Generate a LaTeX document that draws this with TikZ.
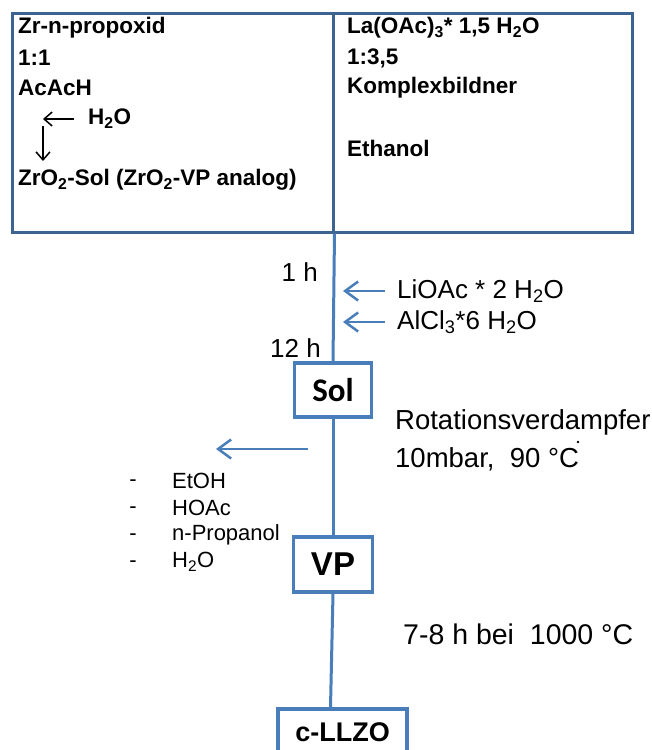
\documentclass[tikz,border=0pt]{standalone}
\usepackage{fontspec}
\setmainfont{Liberation Sans}
\newfontfamily\calfont{Carlito}
\usetikzlibrary{arrows.meta}
\definecolor{boxdark}{HTML}{3D6391}
\definecolor{flow}{HTML}{4A7EBB}
\tikzset{
  topbox/.style={draw=boxdark, line width=3pt, minimum height=219pt, inner sep=0pt},
  bt/.style={anchor=west, inner sep=0pt, font=\bfseries\fontsize{22.5}{26}\selectfont},
  rt/.style={anchor=west, inner sep=0pt, font=\fontsize{26}{31}\selectfont},
  lt/.style={anchor=west, inner sep=0pt, font=\fontsize{22}{26}\selectfont},
  stepnode/.style={draw=flow, line width=3.5pt, inner sep=0pt, fill=white},
  flowline/.style={draw=flow, line width=3pt},
  barrow/.style={draw=flow, line width=2.5pt, -{Straight Barb[length=13pt,width=19pt,line width=2.5pt]}},
  karrow/.style={draw=black, line width=1.5pt, -{Straight Barb[length=8pt,width=14pt,line width=1.5pt]}}
}
\begin{document}
\begin{tikzpicture}[x=1pt,y=-1pt]
\clip (0,0) rectangle (652,750);
\fill[white] (0,0) rectangle (652,750);
% top boxes
\node[topbox, minimum width=321pt] (lbox) at (172.5,122.5) {};
\node[topbox, minimum width=299pt] (rbox) at (482.5,122.5) {};
% left box text
\node[bt] (zr) at (18,28) {Zr-n-propoxid};
\node[bt] (r11) at (18,58) {1:1};
\node[bt] (acac) at (18,88) {AcAcH};
\node[bt] (h2o) at (88,119) {H\textsubscript{2}O};
\node[bt] (zrsol) at (18,180) {ZrO\textsubscript{2}-Sol (ZrO\textsubscript{2}-VP analog)};
\coordinate (kc) at (43,119);
\coordinate (kd) at (43,126);
\draw[karrow] ([xshift=-14pt]h2o.west) -- (kc);
\draw[karrow] (kd) -- (kd |- 0,161);
% right box text
\node[bt] (la) at (347,28) {La(OAc)\textsubscript{3}* 1,5 H\textsubscript{2}O};
\node[bt] (r135) at (347,58) {1:3,5};
\node[bt] (kompl) at (347,88) {Komplexbildner};
\node[bt] (etoh) at (347,148) {Ethanol};
% Sol
\node[stepnode, minimum width=77pt, minimum height=54pt, font=\calfont\bfseries\fontsize{33}{38}\selectfont] (sol) at (333,390) {Sol};
\draw[flowline] (lbox.south east) -- (sol.north);
\node[rt, anchor=east] (t1) at (318,272) {1 h};
\node[rt, anchor=east] (t12) at (321,348) {12 h};
\node[rt] (li) at (397,291) {LiOAc * 2 H\textsubscript{2}O};
\node[rt] (al) at (397,322) {AlCl\textsubscript{3}*6 H\textsubscript{2}O};
\draw[barrow] ([xshift=-12pt]li.west) -- ([xshift=10pt]li.west -| sol.north);
\draw[barrow] ([xshift=-12pt]al.west) -- ([xshift=10pt]al.west -| sol.north);
\node[rt, font=\fontsize{27.5}{32}\selectfont] (rot) at (395,422) {Rotationsverdampfer};
\node[rt, font=\fontsize{27.5}{32}\selectfont] (mbar) at (395,459) {10mbar,\ \ 90 °C};
\fill (578,442) circle (1.4pt);
% VP
\node[stepnode, minimum width=79pt, minimum height=55pt, font=\bfseries\fontsize{33}{38}\selectfont] (vp) at (333,564.5) {VP};
\draw[flowline] (sol.south) -- (vp.north);
\coordinate (ev1) at (308,449);
\coordinate (ev2) at (216,449);
\draw[barrow] (ev1) -- (ev2);
% removed solvents
\foreach \yy/\nm in {483/d1,510/d2,537/d3,564/d4} \node[lt, anchor=center] (\nm) at (133,\yy) {-};
\node[lt] (l1) at (172,481) {EtOH};
\node[lt] (l2) at (172,508) {HOAc};
\node[lt] (l3) at (172,535) {n-Propanol};
\node[lt] (l4) at (172,562) {H\textsubscript{2}O};
% c-LLZO
\node[stepnode, minimum width=129pt, minimum height=46pt, font=\bfseries\fontsize{27}{32}\selectfont] (llzo) at (342.5,732) {c-LLZO};
\draw[flowline] (vp.south) -- ([xshift=-2.5pt]vp.south |- llzo.north);
\node[rt, font=\fontsize{28.5}{33}\selectfont] (heat) at (403,634) {7-8 h bei\ \ 1000 °C};
\end{tikzpicture}
\end{document}
